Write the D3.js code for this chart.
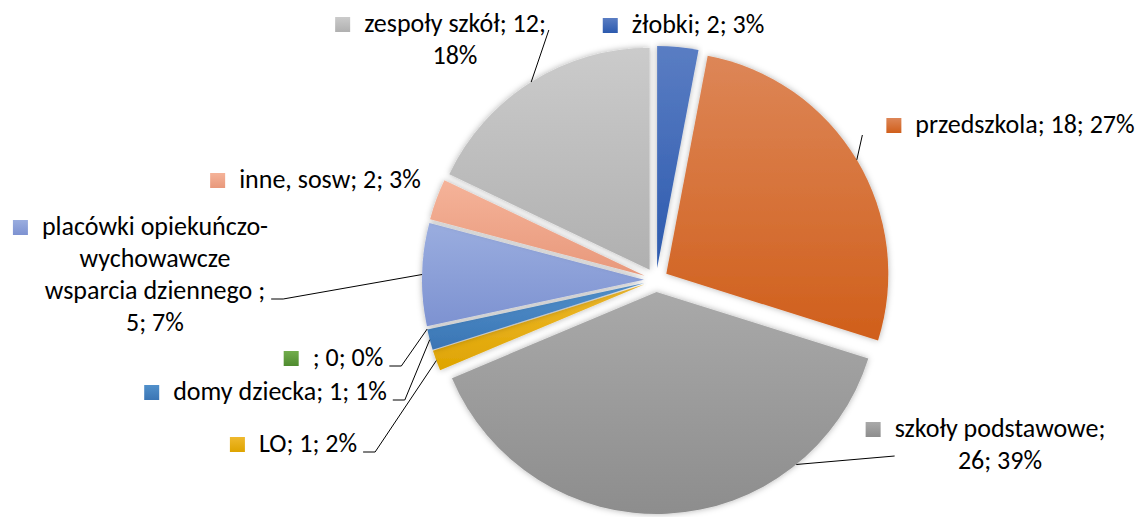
<!DOCTYPE html>
<html>
<head>
<meta charset="utf-8">
<script src="https://cdn.jsdelivr.net/npm/d3@7"></script>
<style>
  body { margin: 0; background: #fff; }
  svg { display: block; }
  text { font-family: Carlito, Calibri, Lato, "Open Sans", sans-serif; font-size: 26px; fill: #000; }
</style>
</head>
<body>
<div id="chart"></div>
<script>
// data, clockwise from 12 o'clock
const names = ["żłobki", "przedszkola", "szkoły podstawowe", "LO", "domy dziecka", "",
               "placówki opiekuńczo-wychowawcze wsparcia dziennego ", "inne, sosw", "zespoły szkół"];
const values = [2, 18, 26, 1, 1, 0, 5, 2, 12];
const percents = ["3%", "27%", "39%", "2%", "1%", "0%", "7%", "3%", "18%"];

// how each data label wraps in the picture
const labelLines = [
  ["żłobki; 2; 3%"],
  ["przedszkola; 18; 27%"],
  ["szkoły podstawowe;", "26; 39%"],
  ["LO; 1; 2%"],
  ["domy dziecka; 1; 1%"],
  ["; 0; 0%"],
  ["placówki opiekuńczo-", "wychowawcze", "wsparcia dziennego ;", "5; 7%"],
  ["inne, sosw; 2; 3%"],
  ["zespoły szkół; 12;", "18%"]
];

// slice fills (top / bottom of the gradient)
const colorTop = ["#5a7dc3", "#dd8657", "#a9a9a9", "#efb92e", "#5190cb", "#72ad4c", "#9aaddf", "#f5b399", "#cbcbcb"];
const colorBottom = ["#2c5aae", "#d05f1b", "#8d8d8d", "#dea400", "#3a75b4", "#4f8b2f", "#7d92d1", "#e8987b", "#b0b0b0"];

// label layout: centre of the text lines and first baseline
const labelX = [698, 1025, 1000, 308, 280, 348, 155, 330, 455];
const labelY = [33, 133, 437, 452, 400, 366, 235, 188, 32];
// leader line style per label and where on the slice arc it lands (0..1)
const leaderKind = [null, "key", "left", "hook", "hook", "hook", "hook", null, "top"];
const leaderLine = [0, 0, 0, 0, 0, 0, 2, 0, 0];
const leaderAt = [0.5, 0.5, 0.24, 0.5, 0.5, 0.5, 0.5, 0.5, 0.5];

const width = 1143, height = 517;
const cx = 656, cy = 280, radius = 222, explode = 12;
const lineH = 32, keySize = 15, keyGap = 14;

const svg = d3.select("#chart").append("svg")
    .attr("width", width)
    .attr("height", height);

const defs = svg.append("defs");

// one vertical gradient per slice
colorTop.forEach(function(c, i) {
  const gr = defs.append("linearGradient")
      .attr("id", "grad" + i)
      .attr("x1", 0).attr("y1", 0).attr("x2", 0).attr("y2", 1);
  gr.append("stop").attr("offset", "0%").attr("stop-color", c);
  gr.append("stop").attr("offset", "100%").attr("stop-color", colorBottom[i]);
});

// soft shadow round the slices
const filt = defs.append("filter").attr("id", "shadow")
    .attr("x", "-10%").attr("y", "-10%").attr("width", "120%").attr("height", "120%");
filt.append("feGaussianBlur").attr("in", "SourceAlpha").attr("stdDeviation", 3).attr("result", "blur");
filt.append("feFlood").attr("flood-color", "#000").attr("flood-opacity", 0.3);
filt.append("feComposite").attr("in2", "blur").attr("operator", "in").attr("result", "sh");
const merge = filt.append("feMerge");
merge.append("feMergeNode").attr("in", "sh");
merge.append("feMergeNode").attr("in", "SourceGraphic");

const pie = d3.pie().sort(null).value(d => d);
const arcs = pie(values);
const arc = d3.arc().innerRadius(0).outerRadius(radius);

function midAngle(d) { return (d.startAngle + d.endAngle) / 2; }

const pieG = svg.append("g")
    .attr("transform", "translate(" + cx + "," + cy + ")");

pieG.selectAll("path")
    .data(arcs)
    .enter()
    .append("path")
      .attr("transform", function(d) {
        const a = midAngle(d);
        return "translate(" + (Math.sin(a) * explode) + "," + (-Math.cos(a) * explode) + ")";
      })
      .attr("d", arc)
      .attr("fill", (d, i) => "url(#grad" + i + ")")
      .attr("filter", "url(#shadow)");

// data labels with legend keys and leader lines
const labelG = svg.append("g");

arcs.forEach(function(d, i) {
  const g = labelG.append("g");
  const lines = labelLines[i];
  const texts = lines.map(function(line, k) {
    return g.append("text")
        .attr("x", labelX[i])
        .attr("y", labelY[i] + k * lineH)
        .attr("text-anchor", "middle")
        .text(line);
  });

  const w0 = texts[0].node().getComputedTextLength();
  const left0 = labelX[i] - w0 / 2;

  g.append("rect")
      .attr("x", left0 - keyGap - keySize)
      .attr("y", labelY[i] - keySize)
      .attr("width", keySize)
      .attr("height", keySize)
      .attr("fill", "url(#grad" + i + ")");

  if (!leaderKind[i]) return;

  // point on the slice arc where the leader ends
  const a = d.startAngle + leaderAt[i] * (d.endAngle - d.startAngle);
  const m = midAngle(d);
  const end = [cx + Math.sin(m) * explode + Math.sin(a) * radius,
               cy - Math.cos(m) * explode - Math.cos(a) * radius];

  let pts;
  const k = leaderLine[i];
  const base = labelY[i] + k * lineH;
  if (leaderKind[i] === "hook") {
    const r = labelX[i] + texts[k].node().getComputedTextLength() / 2;
    pts = [[r + 6, base], [r + 18, base], end];
  } else if (leaderKind[i] === "left") {
    pts = [[left0, base + 19], end];
  } else if (leaderKind[i] === "key") {
    pts = [[left0 - keyGap - keySize - 24, base + 2], end];
  } else {
    pts = [[labelX[i] + w0 / 2 + 3, base - 2], end];
  }

  g.append("path")
      .attr("d", d3.line()(pts))
      .attr("fill", "none")
      .attr("stroke", "#000")
      .attr("stroke-width", 1);
});
</script>
</body>
</html>
